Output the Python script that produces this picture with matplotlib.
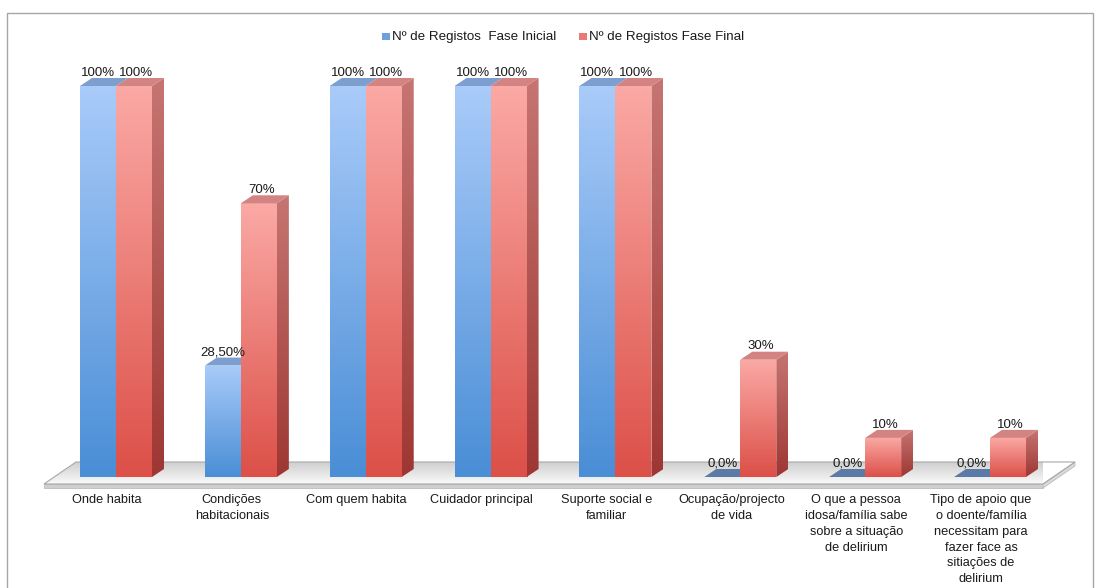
import numpy as np
import matplotlib
matplotlib.use("Agg")
import matplotlib.pyplot as plt
from matplotlib.patches import Polygon, Rectangle
from matplotlib.colors import LinearSegmentedColormap

categories = ["Onde habita", "Condições\nhabitacionais", "Com quem habita",
              "Cuidador principal", "Suporte social e\nfamiliar",
              "Ocupação/projecto\nde vida",
              "O que a pessoa\nidosa/família sabe\nsobre a situação\nde delirium",
              "Tipo de apoio que\no doente/família\nnecessitam para\nfazer face as\nsitiações de\ndelirium"]
fase_inicial = [100, 28.5, 100, 100, 100, 0, 0, 0]
fase_final = [100, 70, 100, 100, 100, 30, 10, 10]
labels_inicial = ["100%", "28,50%", "100%", "100%", "100%", "0,0%", "0,0%", "0,0%"]
labels_final = ["100%", "70%", "100%", "100%", "100%", "30%", "10%", "10%"]
series_names = ["Nº de Registos  Fase Inicial", "Nº de Registos Fase Final"]

W, H = 1097, 588
fig = plt.figure(figsize=(W / 100, H / 100), dpi=100)
ax = fig.add_axes([0, 0, 1, 1])
ax.set_axis_off()

# pixel mapping
px_per_x = 124.86
px_per_y = 3.91
x0_px, y0_px = 116, 477
xlim = (-x0_px / px_per_x, (W - x0_px) / px_per_x)
ylim = (-(H - y0_px) / px_per_y, y0_px / px_per_y)

dx = 12 / px_per_x
dy = 8 / px_per_y
bw = 36 / px_per_x

font = "Liberation Sans"

# chart border
fig.patches.append(Rectangle((7 / W, -0.05), (1093 - 7) / W, 1.05 - 13 / H,
                             transform=fig.transFigure, fill=False,
                             edgecolor="#a6a6a6", linewidth=1.0))

# floor
fl_back, fl_front = (477 - 462) / px_per_y, (477 - 484) / px_per_y
fl_thick = 4 / px_per_y
lf, lb = (44 - 116) / px_per_x, (76 - 116) / px_per_x
rb, rf = (1075 - 116) / px_per_x, (1043 - 116) / px_per_x
rim = Polygon([(lf, fl_front), (rf, fl_front), (rf, fl_front - fl_thick), (lf, fl_front - fl_thick)],
              closed=True, facecolor="#cfcfcf", edgecolor="#bdbdbd", lw=0.6, zorder=1)
ax.add_patch(rim)
floor = Polygon([(lf, fl_front), (lb, fl_back), (rb, fl_back), (rf, fl_front)],
                closed=True, facecolor="none", edgecolor="#a8a8a8", lw=0.8, zorder=1.2)
ax.add_patch(floor)
fcmap = LinearSegmentedColormap.from_list("fl", ["#fafafa", "#cfcfcf"])
im = ax.imshow(np.linspace(0, 1, 64).reshape(-1, 1), cmap=fcmap, origin="lower",
               extent=[lf, rf, fl_front, fl_back], aspect="auto", zorder=1.1)
im.set_clip_path(floor)
siderim = Polygon([(rf, fl_front), (rb, fl_back), (rb, fl_back - fl_thick), (rf, fl_front - fl_thick)],
                  closed=True, facecolor="#d9d9d9", edgecolor="#bdbdbd", lw=0.6, zorder=1)
ax.add_patch(siderim)

x = np.arange(len(categories))
blue_cmap = LinearSegmentedColormap.from_list("b", ["#4a8ed6", "#a9cbf9"])
red_cmap = LinearSegmentedColormap.from_list("r", ["#dc5048", "#fba9a5"])
red_side = LinearSegmentedColormap.from_list("rs", ["#9e3733", "#c67572"])

bars_b = ax.bar(x - bw / 2, fase_inicial, width=bw, color="none", zorder=3)
bars_r = ax.bar(x + bw / 2, fase_final, width=bw, color="none", zorder=3)


def draw3d(rect, cmap, topc, side, z):
    x0 = rect.get_x()
    w = rect.get_width()
    h = rect.get_height()
    x1 = x0 + w
    if h > 0:
        face = Rectangle((x0, 0), w, h, facecolor="none", edgecolor="none", zorder=z)
        ax.add_patch(face)
        g = ax.imshow(np.linspace(0, 1, 128).reshape(-1, 1), cmap=cmap, origin="lower",
                      extent=[x0, x1, 0, h], aspect="auto", zorder=z)
        g.set_clip_path(face)
        if side:
            sp = Polygon([(x1, 0), (x1 + dx, dy), (x1 + dx, h + dy), (x1, h)], closed=True,
                         facecolor="none", edgecolor="none", zorder=z)
            ax.add_patch(sp)
            gs = ax.imshow(np.linspace(0, 1, 128).reshape(-1, 1), cmap=red_side, origin="lower",
                           extent=[x1, x1 + dx, 0, h + dy], aspect="auto", zorder=z)
            gs.set_clip_path(sp)
    tp = Polygon([(x0, h), (x0 + dx, h + dy), (x1 + dx, h + dy), (x1, h)], closed=True,
                 facecolor=topc, edgecolor="none", zorder=z + 0.01)
    ax.add_patch(tp)


for i in range(len(categories)):
    zb = 3 + i * 0.1
    draw3d(bars_b[i], blue_cmap, "#7d9fcf" if fase_inicial[i] > 0 else "#5b7ba6", False, zb)
    draw3d(bars_r[i], red_cmap, "#d28382", True, zb + 0.05)

label_shift = -9 / px_per_x
for i in range(len(categories)):
    rb_ = bars_b[i]
    ax.text(rb_.get_x() + rb_.get_width() / 2, fase_inicial[i] + 3.4, labels_inicial[i],
            ha="center", va="center", fontsize=9.5, family=font, color="#1a1a1a", zorder=10)
    rr = bars_r[i]
    ax.text(rr.get_x() + rr.get_width() / 2 + 0.02, fase_final[i] + 3.4, labels_final[i],
            ha="center", va="center", fontsize=9.5, family=font, color="#1a1a1a", zorder=10)
    ax.text(x[i] + label_shift, -(494 - 477) / px_per_y, categories[i], ha="center", va="top",
            fontsize=9.2, family=font, color="#1a1a1a", linespacing=1.43)

# legend
ly = (477 - 37) / px_per_y
for sx, tx, name, col in [((382 - 116) / px_per_x, (392 - 116) / px_per_x, series_names[0], "#6ea0e0"),
                          ((579 - 116) / px_per_x, (589 - 116) / px_per_x, series_names[1], "#e87b76")]:
    ax.add_patch(Rectangle((sx, ly - 3.5 / px_per_y), 8 / px_per_x, 7 / px_per_y,
                           facecolor=col, edgecolor="none", zorder=10))
    ax.text(tx, ly, name, ha="left", va="center", fontsize=9.6, family=font, color="#1a1a1a")

ax.set_xlim(*xlim)
ax.set_ylim(*ylim)
fig.savefig("out.png", dpi=100)
